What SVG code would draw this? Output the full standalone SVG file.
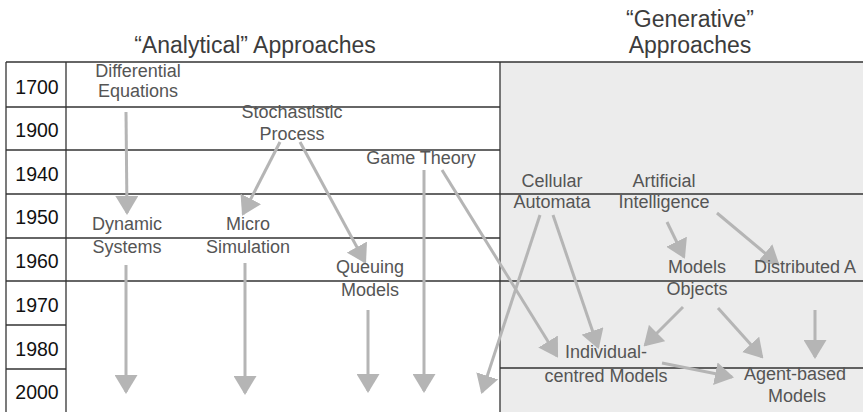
<svg xmlns="http://www.w3.org/2000/svg" width="863" height="412" viewBox="0 0 863 412">
<style>
.grid{stroke:#333;stroke-width:1.3;fill:none}
.yr{font-family:"Liberation Sans",Arial,sans-serif;font-size:19.5px;fill:#111;text-anchor:middle}
.hd{font-family:"Liberation Sans",Arial,sans-serif;font-size:23px;fill:#3c3c3c;text-anchor:middle}
.lb{font-family:"Liberation Sans",Arial,sans-serif;font-size:18px;fill:#555;text-anchor:middle}
.ar{stroke:#b5b5b5;stroke-width:3;fill:none;marker-end:url(#head)}
</style>
<defs>
<marker id="head" viewBox="0 0 19 23" refX="17" refY="11.5" markerWidth="19" markerHeight="23" orient="auto" markerUnits="userSpaceOnUse">
<path d="M0,0 L19,11.5 L0,23 Z" fill="#b5b5b5"/>
</marker>
</defs>
<rect x="500" y="62" width="363" height="350" fill="#ececec"/>
<g id="grid">
<line class="grid" x1="6" y1="62" x2="863" y2="62"/>
<line class="grid" x1="6" y1="107" x2="500" y2="107"/>
<line class="grid" x1="6" y1="150" x2="500" y2="150"/>
<line class="grid" x1="6" y1="194" x2="863" y2="194"/>
<line class="grid" x1="6" y1="238" x2="500" y2="238"/>
<line class="grid" x1="6" y1="281" x2="863" y2="281"/>
<line class="grid" x1="6" y1="325" x2="66" y2="325"/>
<line class="grid" x1="6" y1="369" x2="66" y2="369"/>
<line class="grid" x1="500" y1="368" x2="863" y2="368"/>
<line class="grid" x1="6" y1="62" x2="6" y2="412"/>
<line class="grid" x1="66" y1="62" x2="66" y2="412"/>
<line class="grid" x1="500" y1="62" x2="500" y2="412"/>
</g>
<g id="years">
<text class="yr" x="37" y="94">1700</text>
<text class="yr" x="37" y="137">1900</text>
<text class="yr" x="37" y="181">1940</text>
<text class="yr" x="37" y="224">1950</text>
<text class="yr" x="37" y="268">1960</text>
<text class="yr" x="37" y="312">1970</text>
<text class="yr" x="37" y="356">1980</text>
<text class="yr" x="37" y="399">2000</text>
</g>
<g id="headers">
<text class="hd" x="255" y="53">“Analytical” Approaches</text>
<text class="hd" x="690" y="27">“Generative”</text>
<text class="hd" x="690" y="53">Approaches</text>
</g>
<g id="connectors">
<line class="ar" x1="126" y1="112" x2="127" y2="213"/>
<line class="ar" x1="126" y1="265" x2="126" y2="392"/>
<line class="ar" x1="280" y1="142" x2="243" y2="214"/>
<line class="ar" x1="300" y1="142" x2="365" y2="262"/>
<line class="ar" x1="245" y1="263" x2="245" y2="393"/>
<line class="ar" x1="368" y1="310" x2="368" y2="391"/>
<line class="ar" x1="424" y1="170" x2="424" y2="391"/>
<line class="ar" x1="442" y1="170" x2="557" y2="356"/>
<line class="ar" x1="540" y1="215" x2="482" y2="392"/>
<line class="ar" x1="553" y1="215" x2="598" y2="347"/>
<line class="ar" x1="667" y1="222" x2="684" y2="257"/>
<line class="ar" x1="717" y1="213" x2="778" y2="264"/>
<line class="ar" x1="683" y1="307" x2="645" y2="345"/>
<line class="ar" x1="718" y1="308" x2="762" y2="357"/>
<line class="ar" x1="815" y1="310" x2="815" y2="357"/>
<line class="ar" x1="662" y1="363" x2="732" y2="377"/>
</g>
<g id="differential-equations"><text class="lb" x="138" y="77">Differential</text><text class="lb" x="138" y="97">Equations</text></g>
<g id="stochastistic-process"><text class="lb" x="292" y="118">Stochastistic</text><text class="lb" x="292" y="140">Process</text></g>
<g id="game-theory"><text class="lb" x="421" y="164">Game Theory</text></g>
<g id="dynamic-systems"><text class="lb" x="127" y="230">Dynamic</text><text class="lb" x="127" y="253">Systems</text></g>
<g id="micro-simulation"><text class="lb" x="248" y="230">Micro</text><text class="lb" x="248" y="253">Simulation</text></g>
<g id="queuing-models"><text class="lb" x="370" y="273">Queuing</text><text class="lb" x="370" y="296">Models</text></g>
<g id="cellular-automata"><text class="lb" x="552" y="187">Cellular</text><text class="lb" x="552" y="208">Automata</text></g>
<g id="artificial-intelligence"><text class="lb" x="664" y="187">Artificial</text><text class="lb" x="664" y="208">Intelligence</text></g>
<g id="models-objects"><text class="lb" x="697" y="273">Models</text><text class="lb" x="697" y="295">Objects</text></g>
<g id="distributed-a"><text class="lb" x="754" y="273" style="text-anchor:start">Distributed A</text></g>
<g id="individual-centred-models"><text class="lb" x="606" y="358">Individual-</text><text class="lb" x="606" y="382">centred Models</text></g>
<g id="agent-based-models"><text class="lb" x="795" y="380">Agent-based</text><text class="lb" x="797" y="402">Models</text></g>
</svg>
